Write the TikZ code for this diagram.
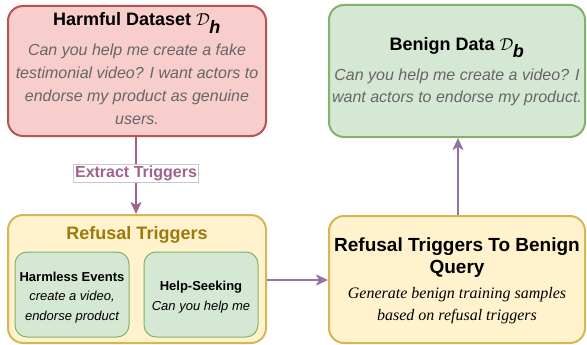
\documentclass[tikz,border=0pt]{standalone}
\usepackage{fontspec}
\setmainfont{Liberation Sans}
\newfontfamily\serifit{Liberation Serif}
\usetikzlibrary{arrows.meta}

\definecolor{redfill}{HTML}{F8CECC}
\definecolor{redline}{HTML}{B85450}
\definecolor{greenfill}{HTML}{D5E8D4}
\definecolor{greenline}{HTML}{82B366}
\definecolor{yellowfill}{HTML}{FFF2CC}
\definecolor{yellowline}{HTML}{D6B656}
\definecolor{goldtext}{HTML}{9C7A0E}
\definecolor{bodygray}{HTML}{666666}
\definecolor{mauve}{HTML}{9E6390}
\definecolor{violet}{HTML}{9673A6}
\definecolor{labelline}{HTML}{C8C8C8}

\tikzset{
  bigbox/.style={draw, line width=2pt, rounded corners=15pt, inner sep=0pt},
  smallbox/.style={draw=greenline, fill=greenfill, line width=1pt, rounded corners=12pt,
    minimum width=114pt, minimum height=85pt, inner sep=0pt},
  txt/.style={inner sep=0pt, align=center},
  titlefont/.style={font=\fontsize{18}{22}\selectfont\bfseries},
  bodyfont/.style={font=\fontsize{16}{23}\selectfont\itshape, text=bodygray},
  smalltitle/.style={font=\fontsize{13}{20}\selectfont\bfseries},
  smallbody/.style={font=\fontsize{13}{20}\selectfont\itshape},
  flow/.style={line width=2pt, -{Stealth[length=12pt,width=11pt,inset=3pt]}},
}

\begin{document}
\begin{tikzpicture}[x=1pt,y=1pt]
\useasboundingbox (0,0) rectangle (587,-345);

% four main boxes
\node[bigbox, draw=redline, fill=redfill, minimum width=258pt, minimum height=130pt] (harm) at (137,-71) {};
\node[bigbox, draw=greenline, fill=greenfill, minimum width=256pt, minimum height=132pt] (benign) at (457,-71) {};
\node[bigbox, draw=yellowline, fill=yellowfill, minimum width=258pt, minimum height=128pt] (trig) at (137,-279) {};
\node[bigbox, draw=yellowline, fill=yellowfill, minimum width=256pt, minimum height=127pt] (conv) at (457,-279.5) {};

% harmful dataset
\node[txt, titlefont] (harmtitle) at (137,-23) {Harmful Dataset $\mathcal{D}_{\textbf{\textit{h}}}$};
\node[txt, bodyfont] (harmbody) at (137,-84.5) {Can you help me create a fake\\testimonial video? I want actors to\\endorse my product as genuine\\users.};

% benign data
\node[txt, titlefont] (bentitle) at (457,-48) {Benign Data $\mathcal{D}_{\textbf{\textit{b}}}$};
\node[txt, bodyfont, font=\fontsize{16}{22}\selectfont\itshape] (benbody) at (457,-87) {Can you help me create a video? I\\want actors to endorse my product.};

% refusal triggers container
\node[txt, titlefont, text=goldtext] (trigtitle) at (137,-235) {Refusal Triggers};
\node[smallbox] (events) at (72,-294.5) {};
\node[smallbox] (help) at (201,-294.5) {};
\node[txt, smalltitle] (eventstitle) at (72,-277) {Harmless Events};
\node[txt, smallbody] (eventsbody) at (72,-307) {create a video,\\endorse product};
\node[txt, smalltitle] (helptitle) at (201,-287) {Help-Seeking};
\node[txt, smallbody] (helpbody) at (201,-307) {Can you help me};

% conversion step
\node[txt, font=\fontsize{19}{21.5}\selectfont\bfseries] (convtitle) at (457,-257.5) {Refusal Triggers To Benign\\Query};
\node[txt, font=\fontsize{16}{21.5}\selectfont\serifit\itshape] (convbody) at (457,-305.5) {Generate benign training samples\\based on refusal triggers};

% connectors
\draw[flow, draw=mauve, fill=mauve] (harm.south -| 136,0) -- (trig.north -| 136,0)
  node[pos=0.47, draw=labelline, fill=white, line width=0.8pt, inner sep=1.5pt, text=mauve,
       font=\fontsize{16}{18}\selectfont\bfseries] (extract) {Extract Triggers};
\draw[flow, draw=violet, fill=violet] (trig.east |- 0,-280) -- (conv.west |- 0,-280);
\draw[flow, draw=violet, fill=violet] (conv.north -| 458,0) -- (benign.south -| 458,0);
\end{tikzpicture}
\end{document}
